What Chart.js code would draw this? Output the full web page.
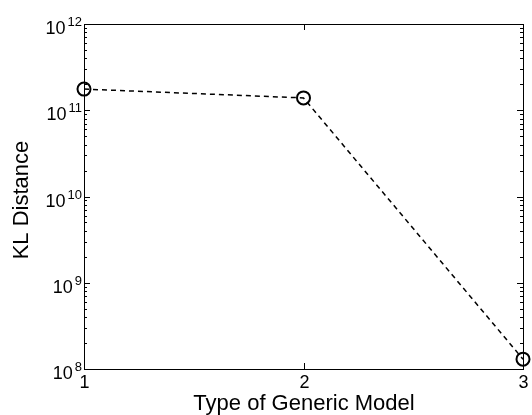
<!DOCTYPE html>
<html>
<head>
<meta charset="utf-8">
<script src="https://cdn.jsdelivr.net/npm/chart.js@4"></script>
<style>
  html, body { margin: 0; padding: 0; background: #fff; }
  #wrap { width: 532px; height: 415px; }
</style>
</head>
<body>
<div id="wrap"><canvas id="klChart"></canvas></div>
<script>
// Data
const modelTypes = [1, 2, 3];
const klDistance = [1.76e11, 1.39e11, 1.3e8];
const yExponents = [8, 9, 10, 11, 12];
const xTickLabels = ['1', '2', '3'];

const FONT = '"Liberation Sans", Arial, sans-serif';

// Box, inward ticks, tick labels and axis titles, drawn like the old plot
const framePlugin = {
    id: 'frame',
    afterDraw(chart) {
        const ctx = chart.ctx;
        const a = chart.chartArea;
        const xs = chart.scales.x;
        const ys = chart.scales.y;
        ctx.save();
        ctx.strokeStyle = '#000';
        ctx.lineWidth = 1;
        ctx.strokeRect(a.left + 0.5, a.top + 0.5, a.right - a.left, a.bottom - a.top);

        // y ticks (major + minor) on both sides
        for (let i = 0; i < yExponents.length; i++) {
            const e = yExponents[i];
            const yp = Math.round(ys.getPixelForValue(Math.pow(10, e))) + 0.5;
            ctx.beginPath();
            ctx.moveTo(a.left, yp); ctx.lineTo(a.left + 6, yp);
            ctx.moveTo(a.right, yp); ctx.lineTo(a.right - 6, yp);
            ctx.stroke();
            if (i < yExponents.length - 1) {
                for (let m = 2; m <= 9; m++) {
                    const ym = Math.round(ys.getPixelForValue(m * Math.pow(10, e))) + 0.5;
                    ctx.beginPath();
                    ctx.moveTo(a.left, ym); ctx.lineTo(a.left + 3, ym);
                    ctx.moveTo(a.right, ym); ctx.lineTo(a.right - 3, ym);
                    ctx.stroke();
                }
            }
            // label 10^e
            ctx.fillStyle = '#000';
            ctx.textBaseline = 'alphabetic';
            ctx.textAlign = 'right';
            ctx.font = '13px ' + FONT;
            const expW = ctx.measureText(String(e)).width;
            ctx.fillText(String(e), a.left - 2, yp + 1);
            ctx.font = '18px ' + FONT;
            ctx.fillText('10', a.left - 2 - expW - 2, yp + 9);
        }

        // x ticks
        ctx.font = '18px ' + FONT;
        ctx.textAlign = 'center';
        ctx.textBaseline = 'top';
        modelTypes.forEach((v, i) => {
            const xp = Math.round(xs.getPixelForValue(v)) + 0.5;
            ctx.beginPath();
            ctx.moveTo(xp, a.bottom); ctx.lineTo(xp, a.bottom - 6);
            ctx.moveTo(xp, a.top); ctx.lineTo(xp, a.top + 6);
            ctx.stroke();
            ctx.fillText(xTickLabels[i], xp, a.bottom + 5);
        });

        // axis titles
        ctx.font = '22px ' + FONT;
        ctx.textAlign = 'center';
        ctx.textBaseline = 'alphabetic';
        ctx.fillText('Type of Generic Model', 304, 410);
        ctx.translate(28, 200);
        ctx.rotate(-Math.PI / 2);
        ctx.fillText('KL Distance', 0, 0);
        ctx.restore();
    }
};

new Chart(document.getElementById('klChart'), {
    type: 'line',
    data: {
        datasets: [{
            data: modelTypes.map((x, i) => ({ x: x, y: klDistance[i] })),
            borderColor: '#000',
            borderWidth: 1.5,
            borderDash: [5, 4],
            pointRadius: 6.5,
            pointBorderWidth: 2,
            pointBorderColor: '#000',
            pointBackgroundColor: 'rgba(0,0,0,0)',
            fill: false,
            tension: 0,
            clip: false
        }]
    },
    options: {
        responsive: true,
        maintainAspectRatio: false,
        animation: false,
        layout: { padding: { left: 0, top: 24, right: 9, bottom: 0 } },
        plugins: { legend: { display: false }, tooltip: { enabled: false } },
        scales: {
            x: {
                type: 'linear',
                min: 1,
                max: 3,
                grid: { display: false },
                border: { display: false },
                ticks: { display: false },
                afterFit(scale) { scale.height = 46; }
            },
            y: {
                type: 'logarithmic',
                min: 1e8,
                max: 1e12,
                grid: { display: false },
                border: { display: false },
                ticks: { display: false },
                afterFit(scale) { scale.width = 84; }
            }
        }
    },
    plugins: [framePlugin]
});
</script>
</body>
</html>
